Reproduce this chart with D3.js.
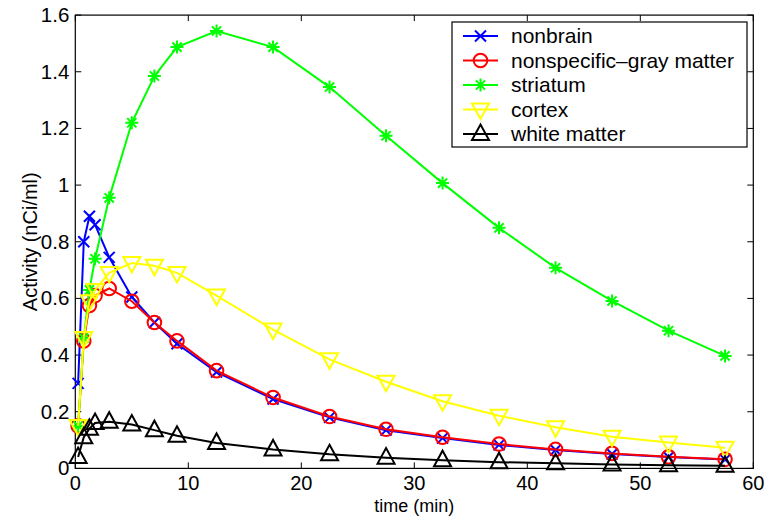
<!DOCTYPE html>
<html><head><meta charset="utf-8">
<script src="https://cdn.jsdelivr.net/npm/d3@7"></script>
<style>body{margin:0;background:#fff}svg{display:block}text{font-family:"Liberation Sans",Arial,sans-serif}</style>
</head><body><svg id="c" width="780" height="517"></svg>
<script>
const times = [0.25,0.75,1.25,1.75,3,5,7,9,12.5,17.5,22.5,27.5,32.5,37.5,42.5,47.5,52.5,57.5];
const nonbrain   = [0.30,0.80,0.89,0.86,0.745,0.605,0.515,0.44,0.34,0.245,0.18,0.135,0.107,0.083,0.065,0.051,0.040,0.031];
const grayMatter = [0.15,0.45,0.575,0.61,0.635,0.59,0.515,0.45,0.345,0.25,0.183,0.138,0.110,0.086,0.067,0.053,0.041,0.032];
const striatum   = [0.15,0.46,0.63,0.74,0.955,1.22,1.385,1.487,1.544,1.487,1.346,1.174,1.007,0.849,0.708,0.591,0.486,0.397];
const cortex     = [0.15,0.46,0.59,0.63,0.69,0.725,0.715,0.69,0.61,0.49,0.385,0.306,0.237,0.186,0.145,0.112,0.091,0.073];
const whiteMatter= [0.04,0.11,0.14,0.16,0.165,0.155,0.135,0.115,0.09,0.067,0.05,0.038,0.029,0.022,0.018,0.014,0.011,0.009];
const seriesNames = ["nonbrain","nonspecific\u2013gray matter","striatum","cortex","white matter"];
const seriesColors = ["#0000ff","#ff0000","#00ff00","#ffff00","#000000"];
const seriesMarkers = ["x","o","*","v","^"];
const xTicks = [0,10,20,30,40,50,60];
const yTicks = [0,0.2,0.4,0.6,0.8,1,1.2,1.4,1.6];
const xLabel = "time (min)", yLabel = "Activity (nCi/ml)";

const allSeries = [nonbrain, grayMatter, striatum, cortex, whiteMatter];
const L=75.3, R=753.3, T=15.1, B=468.4;
const x = d3.scaleLinear().domain([0,60]).range([L,R]);
const y = d3.scaleLinear().domain([0,1.6]).range([B,T]);
const svg = d3.select("#c");
const FS = 20.5;

const tl = 6;
const g = svg.append("g");
g.append("rect").attr("x",L).attr("y",T).attr("width",R-L).attr("height",B-T)
 .attr("fill","none").attr("stroke","#000").attr("stroke-width",1.2);
xTicks.forEach(v=>{
  g.append("line").attr("x1",x(v)).attr("x2",x(v)).attr("y1",B).attr("y2",B-tl).attr("stroke","#000");
  g.append("line").attr("x1",x(v)).attr("x2",x(v)).attr("y1",T).attr("y2",T+tl).attr("stroke","#000");
  g.append("text").attr("x",x(v)).attr("y",490).attr("text-anchor","middle").attr("font-size",20).text(d3.format("~g")(v));
});
yTicks.forEach(v=>{
  g.append("line").attr("x1",L).attr("x2",L+tl).attr("y1",y(v)).attr("y2",y(v)).attr("stroke","#000");
  g.append("line").attr("x1",R).attr("x2",R-tl).attr("y1",y(v)).attr("y2",y(v)).attr("stroke","#000");
  g.append("text").attr("x",L-6).attr("y",y(v)+7).attr("text-anchor","end").attr("font-size",FS).text(d3.format("~g")(v));
});
g.append("text").attr("x",(L+R)/2).attr("y",511.5).attr("text-anchor","middle").attr("font-size",18).text(xLabel);
g.append("text").attr("transform",`translate(37,${(T+B)/2}) rotate(-90)`).attr("text-anchor","middle").attr("font-size",20).text(yLabel);

function marker(sel, type, color){
  const sw=2;
  if(type==="x"){
    sel.append("path").attr("d","M-5.5,-5.5L5.5,5.5M-5.5,5.5L5.5,-5.5").attr("stroke",color).attr("stroke-width",sw).attr("fill","none");
  } else if(type==="o"){
    sel.append("circle").attr("r",6.8).attr("stroke",color).attr("stroke-width",sw).attr("fill","none");
  } else if(type==="*"){
    sel.append("path").attr("d","M-6.5,0L6.5,0M0,-6.5L0,6.5M-4.6,-4.6L4.6,4.6M-4.6,4.6L4.6,-4.6").attr("stroke",color).attr("stroke-width",sw).attr("fill","none");
  } else if(type==="v"){
    sel.append("path").attr("d","M-8.5,-6L8.5,-6L0,9.5Z").attr("stroke",color).attr("stroke-width",sw).attr("fill","none");
  } else if(type==="^"){
    sel.append("path").attr("d","M-8.5,6L8.5,6L0,-9.5Z").attr("stroke",color).attr("stroke-width",sw).attr("fill","none");
  }
}

const line = d3.line().x((d,i)=>x(times[i])).y(d=>y(d));
const pg = svg.append("g");
allSeries.forEach((s,k)=>{
  pg.append("path").attr("d",line(s)).attr("fill","none").attr("stroke",seriesColors[k]).attr("stroke-width",2);
  s.forEach((v,i)=>{
    const m = pg.append("g").attr("transform",`translate(${x(times[i])},${y(v)})`);
    marker(m, seriesMarkers[k], seriesColors[k]);
  });
});

const lg = svg.append("g");
lg.append("rect").attr("x",452).attr("y",22).attr("width",295).attr("height",125).attr("fill","#fff").attr("stroke","#000").attr("stroke-width",1.2);
seriesNames.forEach((n,k)=>{
  const cy = 36 + k*24.5;
  lg.append("line").attr("x1",463).attr("x2",498).attr("y1",cy).attr("y2",cy).attr("stroke",seriesColors[k]).attr("stroke-width",2);
  marker(lg.append("g").attr("transform",`translate(480.5,${cy})`), seriesMarkers[k], seriesColors[k]);
  lg.append("text").attr("x",511).attr("y",cy+7).attr("font-size",21).text(n);
});
</script></body></html>
